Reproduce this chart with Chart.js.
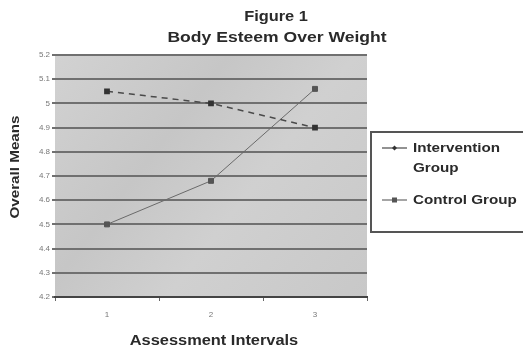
<!DOCTYPE html>
<html>
<head>
<meta charset="utf-8">
<script src="https://cdn.jsdelivr.net/npm/chart.js@4.4.1/dist/chart.umd.min.js"></script>
<style>
  html, body { margin: 0; padding: 0; background: #fff; }
  canvas { display: block; }
</style>
</head>
<body>
<canvas id="chart" width="523" height="350"></canvas>
<script>
const intervals = ['1', '2', '3']
const interventionGroup = [5.05, 5.0, 4.9]
const controlGroup = [4.5, 4.68, 5.06]
const seriesNames = ['Intervention Group', 'Control Group']
const titleLines = ['Figure 1', 'Body Esteem Over Weight']
const xTitle = 'Assessment Intervals'
const yTitle = 'Overall Means'

const FONT = '"Liberation Sans", Arial, sans-serif'
const STRETCH = 1.17 // the scanned lettering is a bit wider than Arial

// draw text stretched sideways around its anchor
function wideText(ctx, text, x, y, align) {
    ctx.save()
    ctx.translate(x, y)
    ctx.scale(STRETCH, 1)
    ctx.textAlign = align
    ctx.fillText(text, 0, 0)
    ctx.restore()
}

// grey plot background, a bit patchy like the scan
const plotBg = {
    id: 'plotBg',
    beforeDraw(chart) {
        const {ctx, chartArea: a} = chart
        ctx.save()
        const g = ctx.createLinearGradient(a.left, a.top, a.right, a.bottom)
        g.addColorStop(0, '#d2d2d2')
        g.addColorStop(0.35, '#c6c6c6')
        g.addColorStop(0.6, '#d0d0d0')
        g.addColorStop(1, '#c8c8c8')
        ctx.fillStyle = g
        ctx.fillRect(a.left, a.top, a.right - a.left, a.bottom - a.top)
        ctx.restore()
    }
}

// titles, axis titles and the boxed legend on the right
const extras = {
    id: 'extras',
    afterDraw(chart) {
        const {ctx} = chart
        ctx.save()
        ctx.fillStyle = '#2a2a2a'
        ctx.textBaseline = 'middle'
        ctx.font = 'bold 14px ' + FONT
        wideText(ctx, titleLines[0], 276, 17, 'center')
        ctx.font = 'bold 15px ' + FONT
        wideText(ctx, titleLines[1], 277, 38, 'center')

        ctx.font = 'bold 14px ' + FONT
        wideText(ctx, xTitle, 214, 341, 'center')

        ctx.save()
        ctx.translate(15, 167)
        ctx.rotate(-Math.PI / 2)
        ctx.font = 'bold 13px ' + FONT
        wideText(ctx, yTitle, 0, 0, 'center')
        ctx.restore()

        // legend box
        ctx.strokeStyle = '#555'
        ctx.lineWidth = 2
        ctx.beginPath()
        ctx.moveTo(523, 132)
        ctx.lineTo(371, 132)
        ctx.lineTo(371, 232)
        ctx.lineTo(523, 232)
        ctx.stroke()

        ctx.font = 'bold 13px ' + FONT
        let y = 148
        chart.data.datasets.forEach(ds => {
            const words = ds.label.split(' ')
            const lines = []
            let cur = ''
            words.forEach(w => {
                const t = cur ? cur + ' ' + w : w
                if (ctx.measureText(t).width * STRETCH > 108 && cur) {
                    lines.push(cur)
                    cur = w
                } else cur = t
            })
            lines.push(cur)

            ctx.strokeStyle = ds.borderColor
            ctx.lineWidth = 1.2
            ctx.beginPath()
            ctx.moveTo(382, y)
            ctx.lineTo(407, y)
            ctx.stroke()
            ctx.fillStyle = ds.pointBackgroundColor
            if (ds.label === seriesNames[1]) ctx.fillRect(392, y - 2.5, 5, 5)
            else {
                ctx.beginPath()
                ctx.moveTo(394.5, y - 2.5)
                ctx.lineTo(397, y)
                ctx.lineTo(394.5, y + 2.5)
                ctx.lineTo(392, y)
                ctx.closePath()
                ctx.fill()
            }
            ctx.fillStyle = '#2a2a2a'
            lines.forEach((l, k) => wideText(ctx, l, 413, y + k * 20, 'left'))
            y += lines.length * 20 + 12
        })
        ctx.restore()
    }
}

new Chart(document.getElementById('chart'), {
    type: 'line',
    data: {
        labels: intervals,
        datasets: [{
            label: seriesNames[0],
            data: interventionGroup,
            borderColor: '#4a4a4a',
            borderWidth: 1.5,
            borderDash: [6, 5],
            pointStyle: 'rect',
            pointRadius: 3,
            pointBackgroundColor: '#333',
            pointBorderColor: '#333',
            tension: 0
        }, {
            label: seriesNames[1],
            data: controlGroup,
            borderColor: '#6a6a6a',
            borderWidth: 1,
            pointStyle: 'rect',
            pointRadius: 3.5,
            pointBackgroundColor: '#555',
            pointBorderColor: '#555',
            tension: 0
        }]
    },
    options: {
        responsive: false,
        animation: false,
        layout: { padding: { top: 55, right: 156, left: 0, bottom: 0 } },
        plugins: {
            legend: { display: false },
            title: { display: false },
            tooltip: { enabled: false }
        },
        scales: {
            x: {
                offset: true,
                afterFit: s => { s.height = 53 },
                grid: { drawOnChartArea: false, tickLength: 4, color: '#666', offset: true },
                border: { color: '#444', width: 2 },
                ticks: { padding: 9, color: '#777', font: { size: 8, family: FONT } }
            },
            y: {
                min: 4.2,
                max: 5.2,
                afterFit: s => { s.width = 55 },
                grid: { color: '#707070', lineWidth: 2, tickLength: 3 },
                border: { display: false },
                ticks: {
                    stepSize: 0.1,
                    padding: 2,
                    color: '#777',
                    font: { size: 8, family: FONT },
                    callback: v => String(+v.toFixed(1))
                }
            }
        }
    },
    plugins: [plotBg, extras]
})
</script>
</body>
</html>
